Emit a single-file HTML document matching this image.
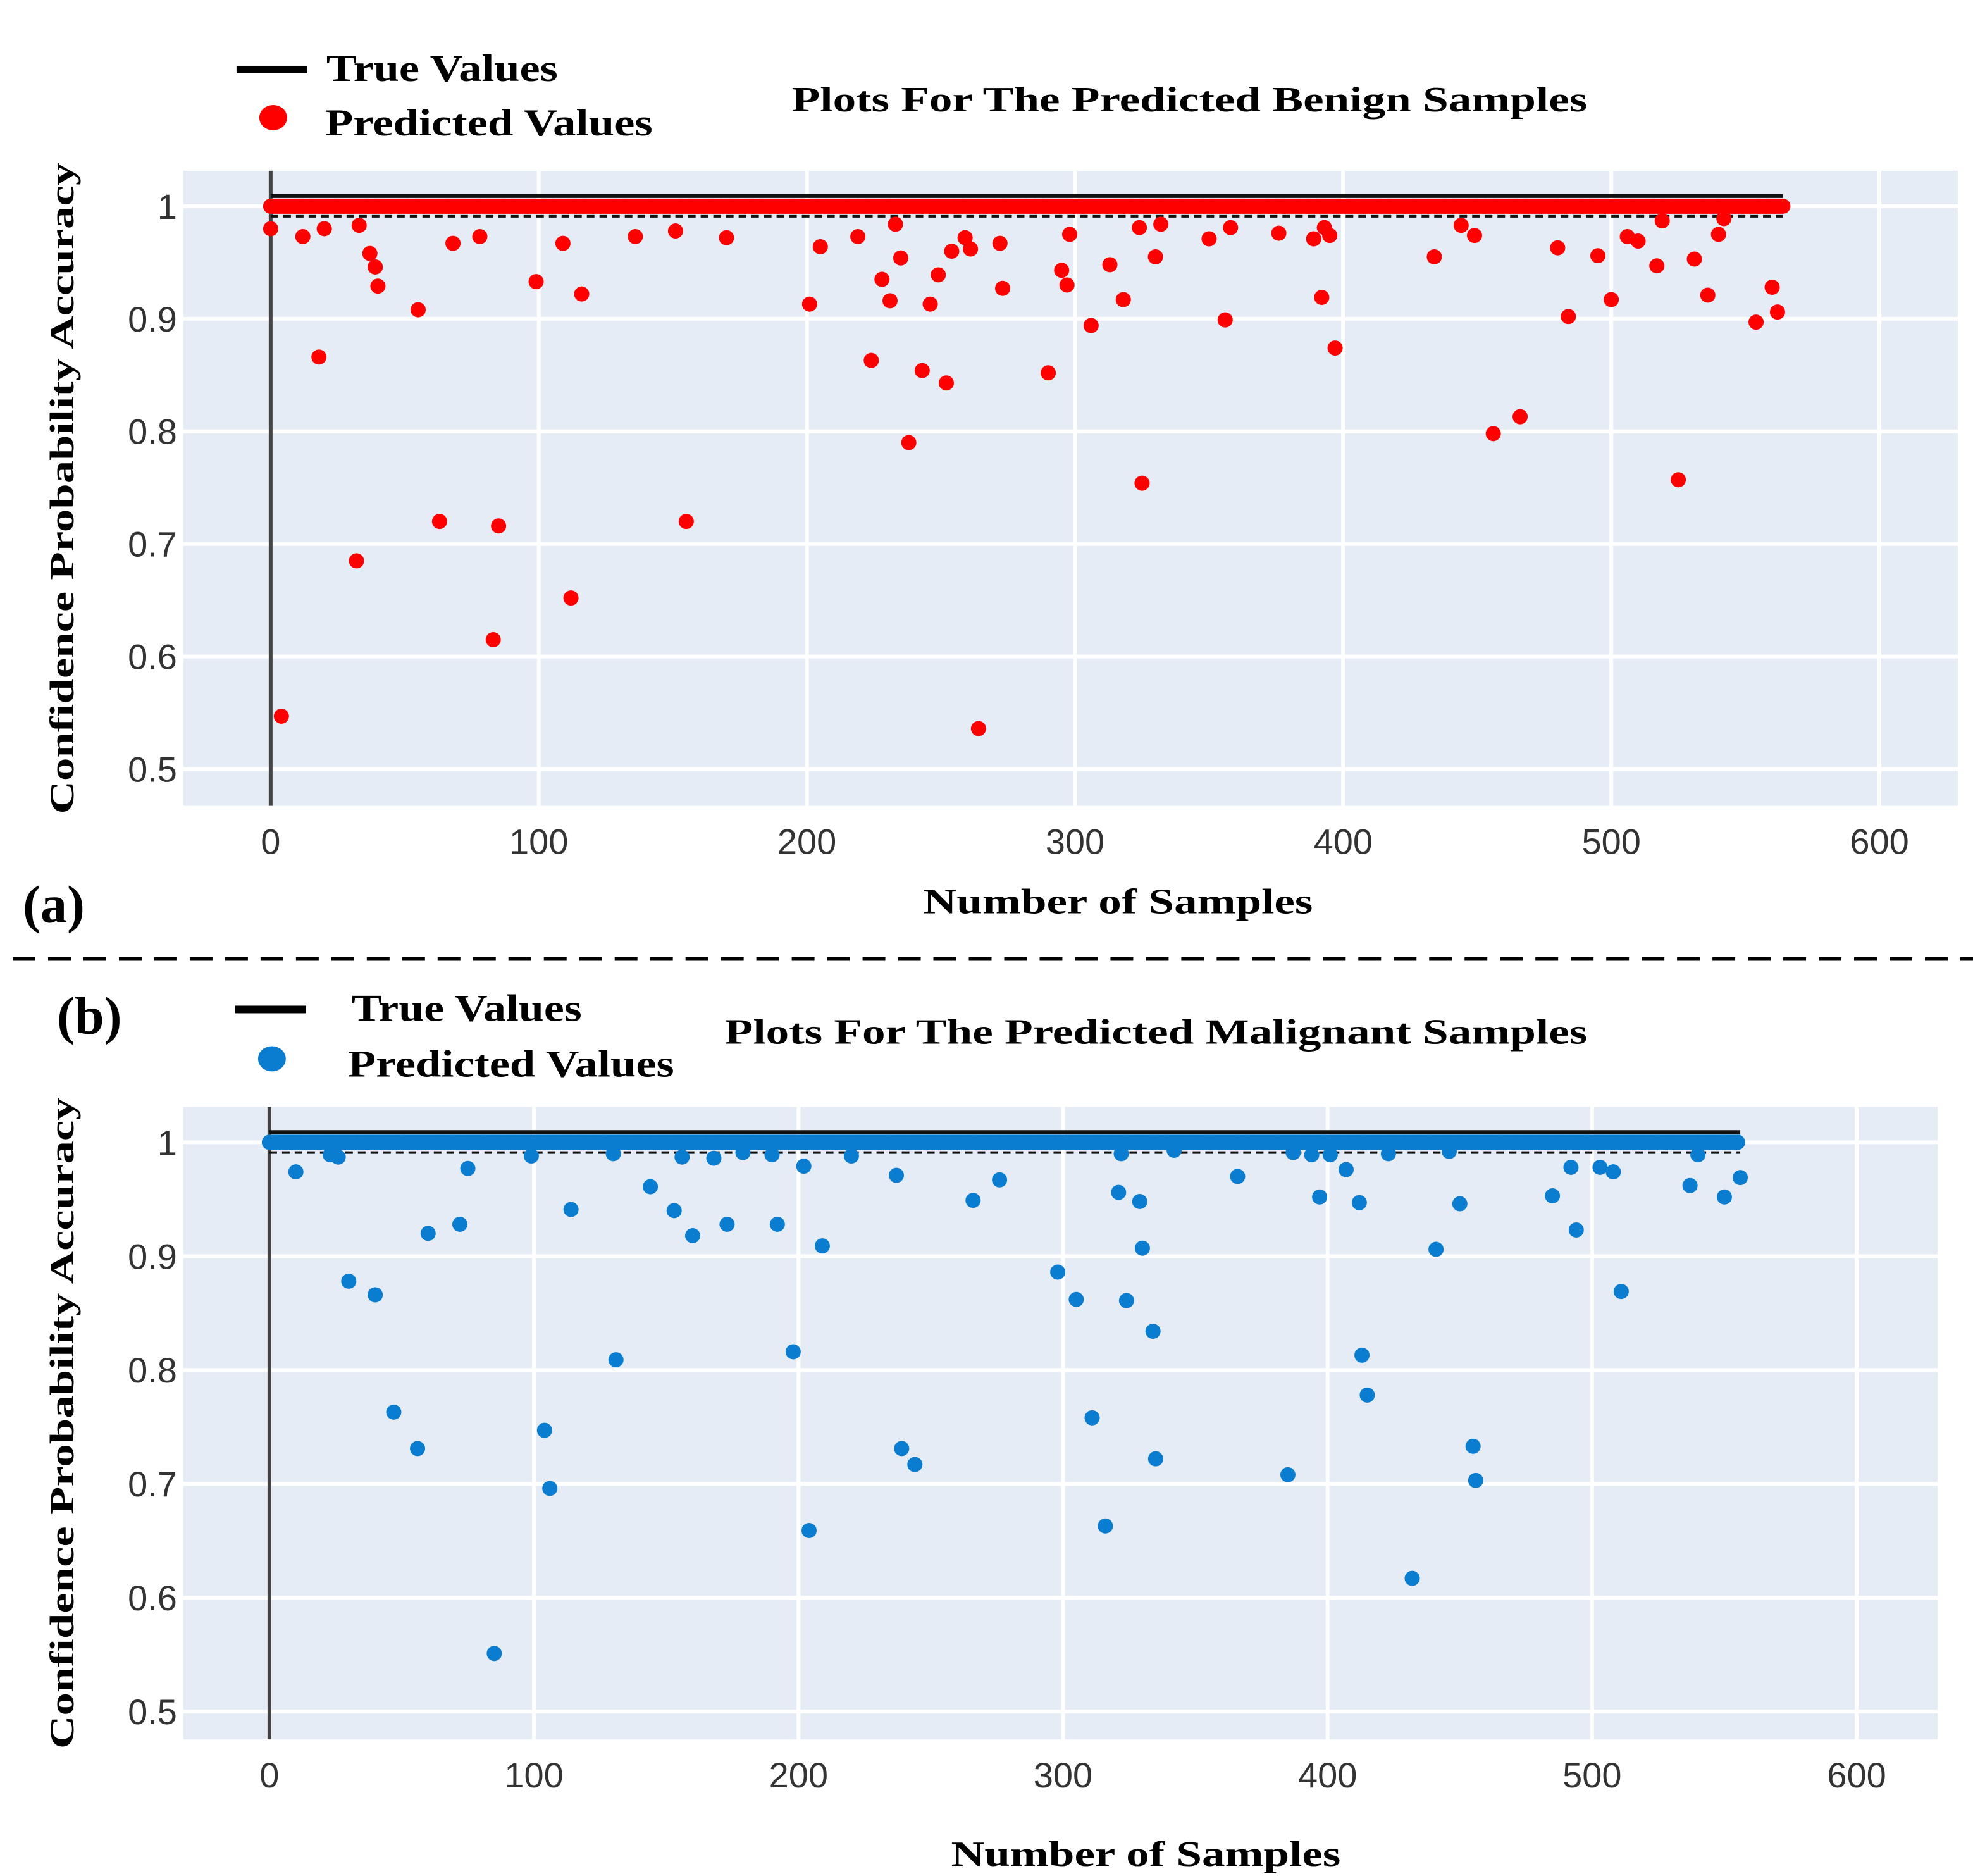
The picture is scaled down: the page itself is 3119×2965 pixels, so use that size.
<!DOCTYPE html>
<html><head><meta charset="utf-8"><style>
html,body{margin:0;padding:0;background:#fff}
svg{display:block}
.tk{font-family:"Liberation Sans",sans-serif;font-size:28px;fill:#333}
.bt{font-family:"Liberation Serif",serif;font-weight:bold;fill:#000}
</style></head><body>
<svg id="chart" width="3119" height="2965" viewBox="0 0 1560 1483" xmlns="http://www.w3.org/2000/svg">
<g id="gA"></g>
<g id="gB"></g>
<line x1="10" y1="758" x2="1560" y2="758" stroke="#000" stroke-width="3" stroke-dasharray="18,10"/>
<text class="bt" x="18" y="729" font-size="42">(a)</text>
<text class="bt" x="45" y="817" font-size="42">(b)</text>
</svg>
<script>
const xTicks=[0,100,200,300,400,500,600];
const yTicks=[0.5,0.6,0.7,0.8,0.9,1];
const yTickLabels=["0.5","0.6","0.7","0.8","0.9","1"];
const benignCount=565;
const malignantCount=557;
const benignX=[0,4,12,18,20,32,33,37,39,40,55,63,68,78,83,85,99,109,112,116,136,151,155,170,201,205,219,224,228,231,233,235,238,243,246,249,252,254,259,261,264,272,273,290,295,297,298,306,313,318,324,325,330,332,350,356,358,376,389,392,393,395,397,434,444,449,456,466,480,484,495,500,506,510,517,519,525,531,536,540,542,554,560,562];
const benignY=[0.98,0.547,0.973,0.866,0.98,0.685,0.983,0.958,0.946,0.929,0.908,0.72,0.967,0.973,0.615,0.716,0.933,0.967,0.652,0.922,0.973,0.978,0.72,0.972,0.913,0.964,0.973,0.863,0.935,0.916,0.984,0.954,0.79,0.854,0.913,0.939,0.843,0.96,0.972,0.962,0.536,0.967,0.927,0.852,0.943,0.93,0.975,0.894,0.948,0.917,0.981,0.754,0.955,0.984,0.971,0.899,0.981,0.976,0.971,0.919,0.981,0.974,0.874,0.955,0.983,0.974,0.798,0.813,0.963,0.902,0.956,0.917,0.973,0.969,0.947,0.987,0.757,0.953,0.921,0.975,0.989,0.897,0.928,0.906];
const malignantX=[10,23,26,30,40,47,56,60,72,75,85,99,104,106,114,131,130,144,153,156,160,168,173,179,190,192,198,202,204,209,220,237,239,244,266,276,298,305,311,316,321,322,324,329,330,334,335,342,366,385,387,394,397,401,407,412,413,415,423,432,441,446,450,455,456,485,492,494,503,508,511,537,540,550,556];
const malignantY=[0.974,0.989,0.987,0.878,0.866,0.763,0.731,0.92,0.928,0.977,0.551,0.988,0.747,0.696,0.941,0.809,0.99,0.961,0.94,0.987,0.918,0.986,0.928,0.991,0.989,0.928,0.816,0.979,0.659,0.909,0.988,0.971,0.731,0.717,0.949,0.967,0.886,0.862,0.758,0.663,0.956,0.99,0.861,0.948,0.907,0.834,0.722,0.993,0.97,0.708,0.991,0.989,0.952,0.989,0.976,0.947,0.813,0.778,0.99,0.617,0.906,0.992,0.946,0.733,0.703,0.953,0.978,0.923,0.978,0.974,0.869,0.962,0.989,0.952,0.969];
const NS="http://www.w3.org/2000/svg";
function mk(parent,tag,attrs,txt){const e=document.createElementNS(NS,tag);for(const k in attrs)e.setAttribute(k,attrs[k]);if(txt!==undefined)e.textContent=txt;parent.appendChild(e);return e;}
function panel(g,cfg){
  const sx=v=>cfg.x0+v*cfg.kx, sy=v=>cfg.y1+(1-v)*cfg.ky;
  const bg=mk(g,'rect',{x:cfg.bx0,y:cfg.by0,width:cfg.bx1-cfg.bx0,height:cfg.by1-cfg.by0,fill:'#e5ecf6'});
  
  
  xTicks.forEach(t=>{
    const l=mk(g,'line',{x1:sx(t),x2:sx(t),y1:cfg.by0,y2:cfg.by1,stroke:'#fff','stroke-width':3});
    
    
    const tx=mk(g,'text',{x:sx(t),y:cfg.by1+38,'text-anchor':'middle',class:'tk'},String(t));
    
    
  });
  yTicks.forEach((t,i)=>{
    const l=mk(g,'line',{x1:cfg.bx0,x2:cfg.bx1,y1:sy(t),y2:sy(t),stroke:'#fff','stroke-width':3});
    
    
    const tx=mk(g,'text',{x:cfg.bx0-5,y:sy(t)+10,'text-anchor':'end',class:'tk'},yTickLabels[i]);
    
    
  });
  const ax=mk(g,'line',{x1:sx(0),x2:sx(0),y1:cfg.by0,y2:cfg.by1,stroke:'#444','stroke-width':3});
  
  
  const tl=mk(g,'line',{x1:sx(0),x2:sx(cfg.n-1),y1:sy(1.009),y2:sy(1.009),stroke:'#111','stroke-width':3});
  
  
  const tl2=mk(g,'line',{x1:sx(0),x2:sx(cfg.n-1),y1:sy(0.991),y2:sy(0.991),stroke:'#111','stroke-width':2,'stroke-dasharray':'6,4'});
  
  
  const band=mk(g,'rect',{x:sx(0),y:sy(1)-6,width:sx(cfg.n-1)-sx(0),height:12,fill:cfg.color});
  
  
  for(let i=0;i<cfg.n;i+=3){
    const c=mk(g,'circle',{cx:sx(i),cy:sy(1),r:6,fill:cfg.color});
    
    
  }
  cfg.xs.forEach((x,i)=>{
    const c=mk(g,'circle',{cx:sx(x),cy:sy(cfg.ys[i]),r:6,fill:cfg.color});
    
    
  });
  const yt=mk(g,'text',{x:0,y:0,class:'bt','font-size':27,'text-anchor':'middle',transform:`translate(${cfg.yTitleX},${(cfg.by0+cfg.by1)/2}) rotate(-90)`,textLength:515,lengthAdjust:'spacingAndGlyphs'},'Confidence Probability Accuracy');
  
  
  const xt=mk(g,'text',{x:cfg.xTitleX,y:cfg.xTitleY,class:'bt','font-size':28,'text-anchor':'middle',textLength:308,lengthAdjust:'spacingAndGlyphs'},'Number of Samples');
  
  
  const ti=mk(g,'text',{x:cfg.tx0,y:cfg.ty,class:'bt','font-size':28,textLength:cfg.tw,lengthAdjust:'spacingAndGlyphs'},cfg.title);
  
  
  const lg=mk(g,'g',{});
  
  
  const ll=mk(lg,'rect',{x:cfg.lgx,y:cfg.lgy1-3,width:56,height:6,fill:'#000'});
  
  
  const lt=mk(lg,'text',{x:cfg.lt1x,y:cfg.lgy1+9,class:'bt','font-size':30,textLength:cfg.lt1w,lengthAdjust:'spacingAndGlyphs'},'True Values');
  
  
  const ld=mk(lg,'ellipse',{cx:cfg.lgx+29,cy:cfg.lgy2-4,rx:11,ry:10,fill:cfg.color});
  
  
  const lp=mk(lg,'text',{x:cfg.lt2x,y:cfg.lgy2+10,class:'bt','font-size':30,textLength:cfg.lt2w,lengthAdjust:'spacingAndGlyphs'},'Predicted Values');
  
  
}
panel(document.getElementById('gA'),{bx0:145,bx1:1548,by0:135,by1:637,x0:214,kx:2.12,y1:163,ky:890,n:benignCount,xs:benignX,ys:benignY,color:'#ff0000',
  yTitleX:58,xTitleX:884,xTitleY:722,title:'Plots For The Predicted Benign Samples',tx0:626,ty:88,tw:629,
  lgx:187,lgy1:55,lgy2:97,lt1x:258,lt1w:183,lt2x:257,lt2w:259});
panel(document.getElementById('gB'),{bx0:145,bx1:1532,by0:875,by1:1375,x0:213,kx:2.0917,y1:903,ky:900,n:malignantCount,xs:malignantX,ys:malignantY,color:'#0a7dd0',
  yTitleX:58,xTitleX:906,xTitleY:1475,title:'Plots For The Predicted Malignant Samples',tx0:573,ty:825,tw:682,
  lgx:186,lgy1:798,lgy2:841,lt1x:278,lt1w:182,lt2x:275,lt2w:258});
</script>
</body></html>
